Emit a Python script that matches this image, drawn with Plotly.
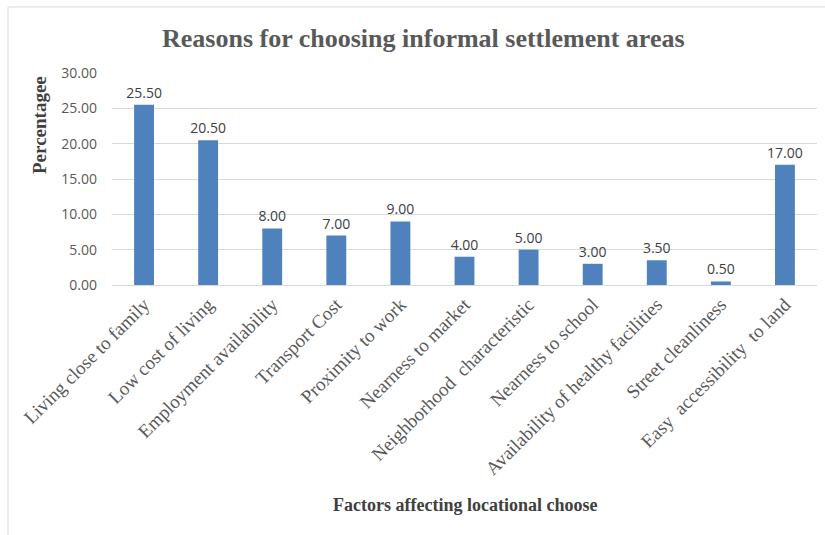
import plotly.graph_objects as go

categories = ["Living close to family", "Low cost of living", "Employment availability",
              "Transport Cost", "Proximity to work", "Nearness to market",
              "Neighborhood  characteristic", "Nearness to school",
              "Availability of healthy facilities", "Street cleanliness",
              "Easy  accessibility  to land"]
values = [25.50, 20.50, 8.00, 7.00, 9.00, 4.00, 5.00, 3.00, 3.50, 0.50, 17.00]
yticks = [0, 5, 10, 15, 20, 25, 30]

W, H = 825, 535
L, R, T, B = 112, 8, 73, 250

fig = go.Figure(go.Bar(
    x=categories, y=values,
    marker=dict(color="#4f81bd", line=dict(color="#4f81bd", width=0)),
    text=[f"{v:.2f}" for v in values], textposition="outside",
    textfont=dict(family="Open Sans", size=14, color="#404040"),
    cliponaxis=False,
))

fig.update_layout(
    width=W, height=H,
    margin=dict(l=L, r=R, t=T, b=B),
    paper_bgcolor="white", plot_bgcolor="white",
    bargap=0.69,
    showlegend=False,
    uniformtext=dict(mode="show", minsize=14),
    xaxis=dict(tickangle=-45, tickfont=dict(family="Liberation Serif", size=19, color="#595959"),
               showline=True, linecolor="#d9d9d9", linewidth=1, ticks="", showgrid=False),
    yaxis=dict(range=[0, 30], tickvals=yticks, ticktext=[f"{v:.2f}" for v in yticks],
               tickfont=dict(family="Open Sans", size=14, color="#595959"),
               showgrid=True, gridcolor="#d9d9d9", gridwidth=1, zeroline=False,
               ticks="", ticklen=0, ticklabelstandoff=14),
    annotations=[
        dict(text="<b>Reasons for choosing informal settlement areas</b>", xref="paper", yref="paper",
             x=(423 - L) / (W - L - R), y=1 + (T - 38) / (H - T - B), xanchor="center", yanchor="middle",
             showarrow=False, font=dict(family="Liberation Serif", size=26, color="#595959")),
        dict(text="<b>Percentagee</b>", xref="paper", yref="paper", textangle=-90,
             x=(40 - L) / (W - L - R), y=1 - (125 - T) / (H - T - B), xanchor="center", yanchor="middle",
             showarrow=False, font=dict(family="Liberation Serif", size=19, color="#404040")),
        dict(text="<b>Factors affecting locational choose</b>", xref="paper", yref="paper",
             x=(465 - L) / (W - L - R), y=-(505 - (H - B)) / (H - T - B), xanchor="center", yanchor="middle",
             showarrow=False, font=dict(family="Liberation Serif", size=18, color="#404040")),
    ],
    shapes=[
        dict(type="rect", xref="paper", yref="paper",
             x0=(8 - L) / (W - L - R), x1=(W + 5 - L) / (W - L - R),
             y0=-(H + 5 - (H - B)) / (H - T - B), y1=1 + (T - 7) / (H - T - B),
             line=dict(color="#d9d9d9", width=1), fillcolor="rgba(0,0,0,0)", layer="below"),
    ],
)

fig.write_html("out.html")
